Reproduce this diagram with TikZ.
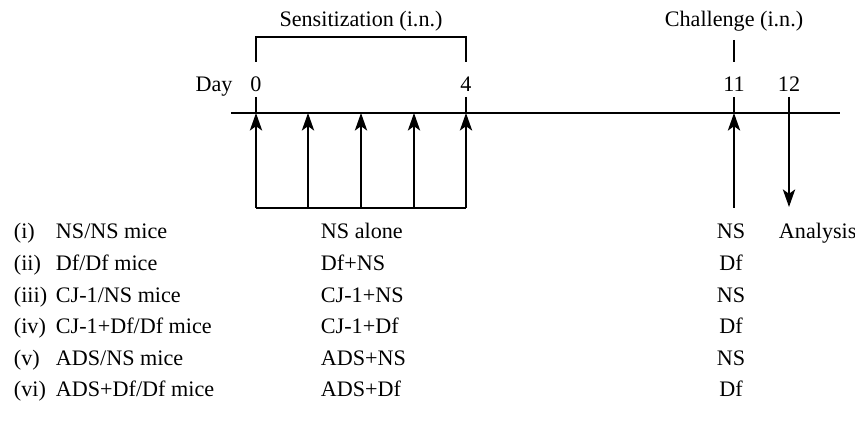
\documentclass[tikz,border=0pt]{standalone}
\usepackage{fontspec}
\setmainfont{Liberation Serif}
\usetikzlibrary{arrows.meta}
\tikzset{
  lbl/.style={font=\fontsize{12.6}{15}\selectfont,inner sep=0pt,anchor=base},
  lblw/.style={lbl,anchor=base west}
}
\begin{document}
\begin{tikzpicture}[x=0.02cm,y=-0.02cm,>={Stealth[length=10pt,width=7pt,inset=2.5pt]},line width=1.1pt]
\useasboundingbox (0,0) rectangle (855,431);
% time axis
\coordinate (axL) at (231,113);
\coordinate (axR) at (840,113);
\draw (axL) -- (axR);
% sensitization days 0..4
\foreach \x [count=\i] in {256,308,361,414,466}{
  \coordinate (s\i) at (\x,113);
  \coordinate (b\i) at (\x,208);
  \draw[->] (b\i) -- (s\i);
}
\draw (b1) -- (b5);
% bracket
\coordinate (br1) at (256,62);
\coordinate (br5) at (466,62);
\draw (br1) -- ++(0,-25) -| (br5);
\node[lbl] (sens) at (361,27) {Sensitization (i.n.)};
% day labels
\node[lbl] (day) at (214,92) {Day};
\node[lbl] (n0) at (256,92) {0};
\node[lbl] (n4) at (466,92) {4};
\node[lbl] (n11) at (734,92) {11};
\node[lbl] (n12) at (789,92) {12};
\coordinate (t0) at (256,97);
\coordinate (t4) at (466,97);
\coordinate (t11) at (734,97);
\coordinate (t12) at (789,97);
\draw (t0) -- (s1);
\draw (t4) -- (s5);
% challenge
\coordinate (c11) at (734,113);
\coordinate (cb) at (734,208);
\coordinate (ch1) at (734,40);
\coordinate (ch2) at (734,62);
\draw (ch1) -- (ch2);
\node[lbl] (chal) at (734,27) {Challenge (i.n.)};
\draw (t11) -- (c11);
\draw[->] (cb) -- (c11);
% analysis
\coordinate (a12) at (789,207);
\draw[->] (t12) -- (a12);
\node[lblw] (ana) at (778,239) {Analysis};
% groups
\foreach \n/\g/\s/\c [count=\i] in {(i)/NS\slash NS mice/NS alone/NS,
  (ii)/Df\slash Df mice/Df+NS/Df,
  (iii)/CJ-1\slash NS mice/CJ-1+NS/NS,
  (iv)/CJ-1+Df\slash Df mice/CJ-1+Df/Df,
  (v)/ADS\slash NS mice/ADS+NS/NS,
  (vi)/ADS+Df\slash Df mice/ADS+Df/Df}{
  \pgfmathsetmacro{\yy}{239+31.6*(\i-1)}
  \node[lblw] (num\i) at (13,\yy) {\n};
  \node[lblw] (grp\i) at (55,\yy) {\g};
  \node[lblw] (sen\i) at (320,\yy) {\s};
  \node[lbl] (cha\i) at (731,\yy) {\c};
}
\end{tikzpicture}
\end{document}
